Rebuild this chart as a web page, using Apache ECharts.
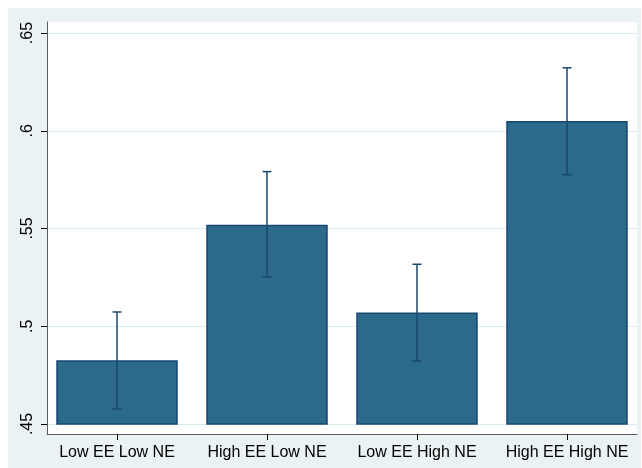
<!DOCTYPE html>
<html>
<head>
<meta charset="utf-8">
<script src="https://cdn.jsdelivr.net/npm/echarts@6/dist/echarts.min.js"></script>
<style>
  html, body { margin: 0; padding: 0; background: #ffffff; }
  #chart { width: 642px; height: 468px; background: #EAF2F3;
           box-shadow: inset 8px 8px 0 #ffffff, inset -1px 0 0 #ffffff; }
</style>
</head>
<body>
<div id="chart"></div>
<script>
// ---- data ----
const categories = ['Low EE Low NE', 'High EE Low NE', 'Low EE High NE', 'High EE High NE'];
const means = [0.4822, 0.5515, 0.5066, 0.6046];
const lower = [0.4577, 0.5252, 0.4822, 0.5775];
const upper = [0.5073, 0.5791, 0.5317, 0.6322];
const baseline = 0.45;
const yTicks = [0.45, 0.5, 0.55, 0.6, 0.65];
const yTickLabels = ['.45', '.5', '.55', '.6', '.65'];
const xTicks = [1, 2, 3, 4];

const barData = means.map((m, i) => [i + 1, m]);
const errData = means.map((m, i) => [i + 1, lower[i], upper[i]]);

const FONT = '"Liberation Sans", Arial, sans-serif';
const BAR_FILL = '#2C6A8C';
const BAR_EDGE = '#1A476F';

const chart = echarts.init(document.getElementById('chart'), null, { renderer: 'canvas' });
chart.setOption({
  backgroundColor: 'transparent',
  animation: false,
  grid: {
    left: 47, right: 5, top: 22, bottom: 34,
    show: true, backgroundColor: '#ffffff', borderWidth: 0
  },
  xAxis: {
    type: 'value',
    min: 0.5333, max: 4.4667,
    axisLine: { show: true, lineStyle: { color: '#5a5a5a', width: 1 } },
    axisTick: { show: true, customValues: xTicks, length: 6, lineStyle: { color: '#000', width: 1 } },
    axisLabel: {
      customValues: xTicks,
      formatter: v => categories[Math.round(v) - 1],
      color: '#000', fontFamily: FONT, fontSize: 16, margin: 11
    },
    splitLine: { show: false }
  },
  yAxis: {
    type: 'value',
    min: 0.44488, max: 0.65563,
    axisLine: { show: true, lineStyle: { color: '#5a5a5a', width: 1 } },
    axisTick: { show: true, customValues: yTicks, length: 6, lineStyle: { color: '#000', width: 1 } },
    axisLabel: {
      customValues: yTicks,
      formatter: v => yTickLabels[yTicks.findIndex(t => Math.abs(t - v) < 1e-6)],
      rotate: 90,
      color: '#000', fontFamily: FONT, fontSize: 16, margin: 11
    },
    splitLine: { show: true, lineStyle: { color: '#DAECF0', width: 1 } }
  },
  series: [
    {
      type: 'custom',
      data: barData,
      encode: { x: 0, y: 1 },
      renderItem: function (params, api) {
        const x = api.value(0);
        const top = api.coord([x, api.value(1)]);
        const base = api.coord([x, baseline]);
        const w = api.size([0.8, 0])[0];
        return {
          type: 'rect',
          shape: { x: top[0] - w / 2, y: top[1], width: w, height: base[1] - top[1] },
          style: { fill: BAR_FILL, stroke: BAR_EDGE, lineWidth: 1.5 }
        };
      }
    },
    {
      type: 'custom',
      data: errData,
      encode: { x: 0, y: [1, 2] },
      z: 3,
      renderItem: function (params, api) {
        const x = api.value(0);
        const lo = api.coord([x, api.value(1)]);
        const hi = api.coord([x, api.value(2)]);
        const cap = api.size([0.06, 0])[0] / 2;
        const style = { stroke: BAR_EDGE, lineWidth: 1.5, fill: null };
        return {
          type: 'group',
          children: [
            { type: 'line', shape: { x1: lo[0], y1: lo[1], x2: hi[0], y2: hi[1] }, style: style },
            { type: 'line', shape: { x1: hi[0] - cap, y1: hi[1], x2: hi[0] + cap, y2: hi[1] }, style: style },
            { type: 'line', shape: { x1: lo[0] - cap, y1: lo[1], x2: lo[0] + cap, y2: lo[1] }, style: style }
          ]
        };
      }
    }
  ]
});
</script>
</body>
</html>
